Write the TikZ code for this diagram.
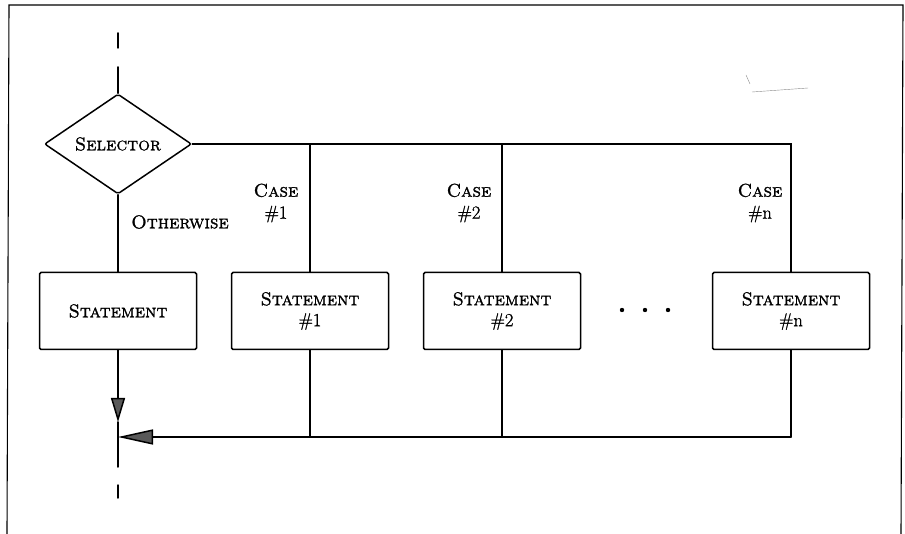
\documentclass[tikz,border=0pt]{standalone}
\usepackage{fontspec}
\setmainfont{Latin Modern Roman}[FakeBold=1.2,SmallCapsFont={Latin Modern Roman Caps},SmallCapsFeatures={FakeBold=1.2}]
\usetikzlibrary{shapes.geometric,arrows.meta}
\begin{document}
\begin{tikzpicture}[x=1pt,y=-1pt,
  every node/.style={font=\fontsize{18.5}{22}\selectfont},
  flow/.style={line width=1.5pt,line cap=round},
  stmt/.style={draw,line width=1.5pt,rounded corners=1.5pt,minimum width=157pt,minimum height=77pt,align=center,inner sep=0pt},
  lbl/.style={align=center,inner sep=0pt}
]
\useasboundingbox (0,0) rectangle (905,534);
% frame
\draw[line width=1.1pt] (7,534) -- (9,5) -- (903,5) -- (901,534);
% stray scan mark
\draw[line width=0.4pt,black!45] (746,75) -- (750,84);
\draw[line width=0.4pt,black!45] (752,92) -- (808,88);

\node[draw,diamond,line width=1.5pt,rounded corners=2pt,minimum width=147pt,minimum height=100pt,inner sep=0pt] (sel) at (118,144) {\textsc{Selector}};

\node[stmt] (s0) at (118,311) {\textsc{Statement}};
\node[stmt] (s1) at (310,311) {\textsc{Statement}\\[-1pt]\#1};
\node[stmt] (s2) at (502,311) {\textsc{Statement}\\[-1pt]\#2};
\node[stmt] (sn) at (791,311) {\textsc{Statement}\\[-1pt]\#n};

\coordinate (t1) at (118,33);
\coordinate (t2) at (118,48);
\coordinate (t3) at (118,67);
\coordinate (mid) at (118,422);
\coordinate (b1) at (118,467);
\coordinate (b2) at (118,485);
\coordinate (b3) at (118,498);
\coordinate (join) at (118,437);

% top entry
\draw[flow] (t1) -- (t2);
\draw[flow] (t3) -- (sel.north);
% case bus
\draw[flow] (sel.east) -- (sel.east -| sn.north) -- (sn.north);
\draw[flow] (sel.east -| s1.north) -- (s1.north);
\draw[flow] (sel.east -| s2.north) -- (s2.north);
% otherwise
\draw[flow] (sel.south) -- (s0.north);
% exit
\draw[flow,-{Triangle[length=24pt,width=14pt,fill=black!65]}] (s0.south) -- (mid);
\draw[flow] (mid) -- (b1);
\draw[flow] (b2) -- (b3);
% return bus
\draw[flow] (sn.south) -- (sn.south |- join);
\draw[flow,-{Triangle[length=35pt,width=15pt,fill=black!65]}] (sn.south |- join) -- (join);
\draw[flow] (s1.south) -- (s1.south |- join);
\draw[flow] (s2.south) -- (s2.south |- join);

% labels
\node[lbl] (lo) at (180,222) {\textsc{Otherwise}};
\node[lbl] (l1) at (276,203) {\textsc{Case}\\[0pt]\#1};
\node[lbl] (l2) at (469,203) {\textsc{Case}\\[0pt]\#2};
\node[lbl] (ln) at (760,203) {\textsc{Case}\\[0pt]\#n};

% dots
\fill (622,310) circle (2.2pt);
\fill (645,310) circle (2.2pt);
\fill (668,310) circle (2.2pt);
\end{tikzpicture}
\end{document}
